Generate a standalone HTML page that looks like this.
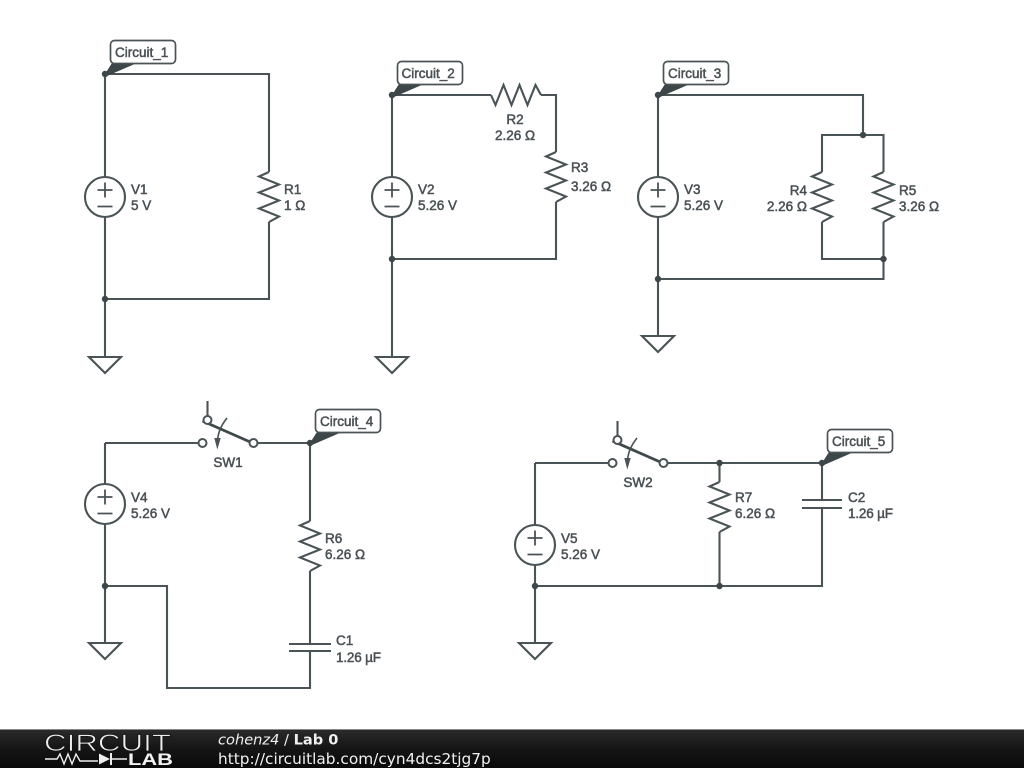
<!DOCTYPE html>
<html><head><meta charset="utf-8"><title>Lab 0</title>
<style>
html,body{margin:0;padding:0;background:#fff;width:1024px;height:768px;overflow:hidden}
svg{display:block;position:absolute;left:0;top:0}
.w{fill:none;stroke:#4a5356;stroke-width:2.1}
.l{font:13.5px "Liberation Sans",sans-serif;fill:#4a5154;stroke:#4a5154;stroke-width:.5}
.n{fill:#3d4649}
.tag{fill:#fff;stroke:#4a5356;stroke-width:1.7}
.tail{fill:#3d4649}
</style></head><body>
<svg width="1024" height="768" viewBox="0 0 1024 768" xmlns="http://www.w3.org/2000/svg">
<defs>
<linearGradient id="bar" x1="0" y1="0" x2="0" y2="1"><stop offset="0" stop-color="#2b2b2b"/><stop offset=".5" stop-color="#151515"/><stop offset="1" stop-color="#0a0a0a"/></linearGradient>
<g id="src"><circle cx="0" cy="0" r="20" fill="#fff" stroke="#4a5356" stroke-width="2.1"/><path d="M-7.5 -7H7.5M0 -14.5V0.5M-7.5 9.5H7.5" fill="none" stroke="#4a5356" stroke-width="1.8"/></g>
<path id="rv" class="w" d="M0 0L-10 4.5L10 12.5L-10 20.5L10 28.5L-10 36.5L10 44.5L0 50"/>
<path id="rh" class="w" d="M0 0L4.5 10L12.5 -10L20.5 10L28.5 -10L36.5 10L44.5 -10L50 0"/>
<path id="gnd" class="w" d="M-16 0H16L0 16Z"/>
<g id="sw"><path class="w" d="M5 -42V-27"/><path d="M0 -22L50 0" fill="none" stroke="#3f484b" stroke-width="2.8"/><circle cx="5" cy="-23" r="4" fill="#fff" stroke="#4a5356" stroke-width="2"/><circle cx="0" cy="0" r="4" fill="#fff" stroke="#4a5356" stroke-width="2"/><circle cx="51" cy="0" r="4" fill="#fff" stroke="#4a5356" stroke-width="2"/><path d="M24.5 -25C19 -18 16 -12 15 -3" fill="none" stroke="#4a5356" stroke-width="1.6"/><path d="M11.8 -5L18.2 -5L14.8 6.5Z" fill="#4a5356"/></g>
<path id="tl" class="tail" d="M0 0L7 -11H32L2 2Z"/>
</defs>

<!-- Circuit 1 -->
<path class="w" d="M105 74H269V172M269 222V299H105M105 74V177M105 217V357"/>
<use href="#src" x="105" y="197"/><use href="#rv" x="269" y="172"/><use href="#gnd" x="105" y="357"/>
<circle class="n" cx="105" cy="299" r="3.2"/>
<circle class="n" cx="105" cy="74" r="3.2"/>
<use href="#tl" x="105" y="74"/>
<rect class="tag" x="110.5" y="40.5" width="65" height="23" rx="4"/>
<text class="l" x="115" y="57">Circuit_1</text>
<text class="l" x="131" y="194">V1</text><text class="l" x="131" y="210">5 V</text>
<text class="l" x="284" y="194">R1</text><text class="l" x="284" y="210">1 Ω</text>

<!-- Circuit 2 -->
<path class="w" d="M392 95H491M541 95H556V152M556 202V259H392M392 95V177M392 217V357"/>
<use href="#src" x="392" y="197"/><use href="#rh" x="491" y="95"/><use href="#rv" x="556" y="152"/><use href="#gnd" x="392" y="357"/>
<circle class="n" cx="392" cy="259" r="3.2"/>
<circle class="n" cx="392" cy="95" r="3.2"/>
<use href="#tl" x="392" y="95"/>
<rect class="tag" x="397.5" y="61.5" width="65" height="23" rx="4"/>
<text class="l" x="401.5" y="78">Circuit_2</text>
<text class="l" x="418" y="194">V2</text><text class="l" x="418" y="210">5.26 V</text>
<text class="l" x="515" y="124" text-anchor="middle">R2</text><text class="l" x="515" y="140" text-anchor="middle">2.26 Ω</text>
<text class="l" x="571" y="172">R3</text><text class="l" x="571" y="191">3.26 Ω</text>

<!-- Circuit 3 -->
<path class="w" d="M658 95H863V135M822 172V135H883.5V172M822 222V259H883.5M883.5 222V279H658M658 95V177M658 217V336"/>
<use href="#src" x="658" y="197"/><use href="#rv" x="822" y="172"/><use href="#rv" x="883.5" y="172"/><use href="#gnd" x="658" y="336"/>
<circle class="n" cx="863" cy="135" r="3.2"/><circle class="n" cx="883.5" cy="259" r="3.2"/><circle class="n" cx="658" cy="279" r="3.2"/>
<circle class="n" cx="658" cy="95" r="3.2"/>
<use href="#tl" x="658" y="95"/>
<rect class="tag" x="663.5" y="61.5" width="65" height="23" rx="4"/>
<text class="l" x="668" y="78">Circuit_3</text>
<text class="l" x="684" y="194">V3</text><text class="l" x="684" y="210">5.26 V</text>
<text class="l" x="807" y="195" text-anchor="end">R4</text><text class="l" x="807" y="211" text-anchor="end">2.26 Ω</text>
<text class="l" x="899" y="195">R5</text><text class="l" x="899" y="211">3.26 Ω</text>

<!-- Circuit 4 -->
<path class="w" d="M105 443H202M253 443H310V521M310 571V644M310 651V688H167V586H105M105 443V484M105 524V643"/>
<path class="w" d="M289 644H331M289 651H331"/>
<use href="#src" x="105" y="504"/><use href="#sw" x="202.5" y="443"/><use href="#rv" x="310" y="521"/><use href="#gnd" x="105" y="643"/>
<circle class="n" cx="105" cy="586" r="3.2"/>
<circle class="n" cx="310" cy="443" r="3.2"/>
<use href="#tl" x="310" y="443"/>
<rect class="tag" x="315.5" y="409.5" width="65" height="23" rx="4"/>
<text class="l" x="320" y="426">Circuit_4</text>
<text class="l" x="131" y="502">V4</text><text class="l" x="131" y="518">5.26 V</text>
<text class="l" x="228" y="467" text-anchor="middle">SW1</text>
<text class="l" x="325" y="543">R6</text><text class="l" x="325" y="559">6.26 Ω</text>
<text class="l" x="336" y="645">C1</text><text class="l" x="336" y="662" textLength="45">1.26 µF</text>

<!-- Circuit 5 -->
<path class="w" d="M535 463H612M663 463H822V500M822 508V586H535M719.5 463V482M719.5 532V586M535 463V525M535 565V643"/>
<path class="w" d="M802 500H842M802 508H842"/>
<use href="#src" x="535" y="545"/><use href="#sw" x="612.5" y="463"/><use href="#rv" x="719.5" y="482"/><use href="#gnd" x="535" y="643"/>
<circle class="n" cx="719.5" cy="463" r="3.2"/><circle class="n" cx="535" cy="586" r="3.2"/><circle class="n" cx="719.5" cy="586" r="3.2"/>
<circle class="n" cx="822" cy="463" r="3.2"/>
<use href="#tl" x="822" y="463"/>
<rect class="tag" x="827.5" y="429.5" width="65" height="23" rx="4"/>
<text class="l" x="832" y="446">Circuit_5</text>
<text class="l" x="561" y="543">V5</text><text class="l" x="561" y="559">5.26 V</text>
<text class="l" x="638" y="487" text-anchor="middle">SW2</text>
<text class="l" x="735" y="502">R7</text><text class="l" x="735" y="518">6.26 Ω</text>
<text class="l" x="848" y="502">C2</text><text class="l" x="848" y="518" textLength="45">1.26 µF</text>

<!-- Footer -->
<rect x="0" y="729" width="1024" height="39" fill="url(#bar)"/>
<rect x="0" y="729" width="1024" height="1" fill="#888"/>
<text x="44" y="751" font-family="Liberation Sans,sans-serif" font-size="24" fill="#eee" stroke="#151515" stroke-width=".7" textLength="127" lengthAdjust="spacingAndGlyphs">CIRCUIT</text>
<path d="M45 759H57L60 754L64 764L68 754L72 764L76 754L80 761H98M112 759H127" fill="none" stroke="#eee" stroke-width="1.4"/>
<path d="M99 753.5L110 759L99 764.5Z" fill="#eee"/><path d="M111 753V765" stroke="#eee" stroke-width="2"/>
<text x="128" y="765" font-family="Liberation Sans,sans-serif" font-size="16.5" font-weight="bold" fill="#f2f2f2" textLength="45" lengthAdjust="spacingAndGlyphs">LAB</text>
<text x="218" y="744.5" font-family="DejaVu Sans,sans-serif" font-size="14.6" fill="#f0f0f0"><tspan font-style="italic">cohenz4</tspan> / <tspan font-weight="bold">Lab 0</tspan></text>
<text x="218" y="764" font-family="DejaVu Sans,sans-serif" font-size="15.35" fill="#f0f0f0">http://circuitlab.com/cyn4dcs2tjg7p</text>
</svg>
</body></html>
